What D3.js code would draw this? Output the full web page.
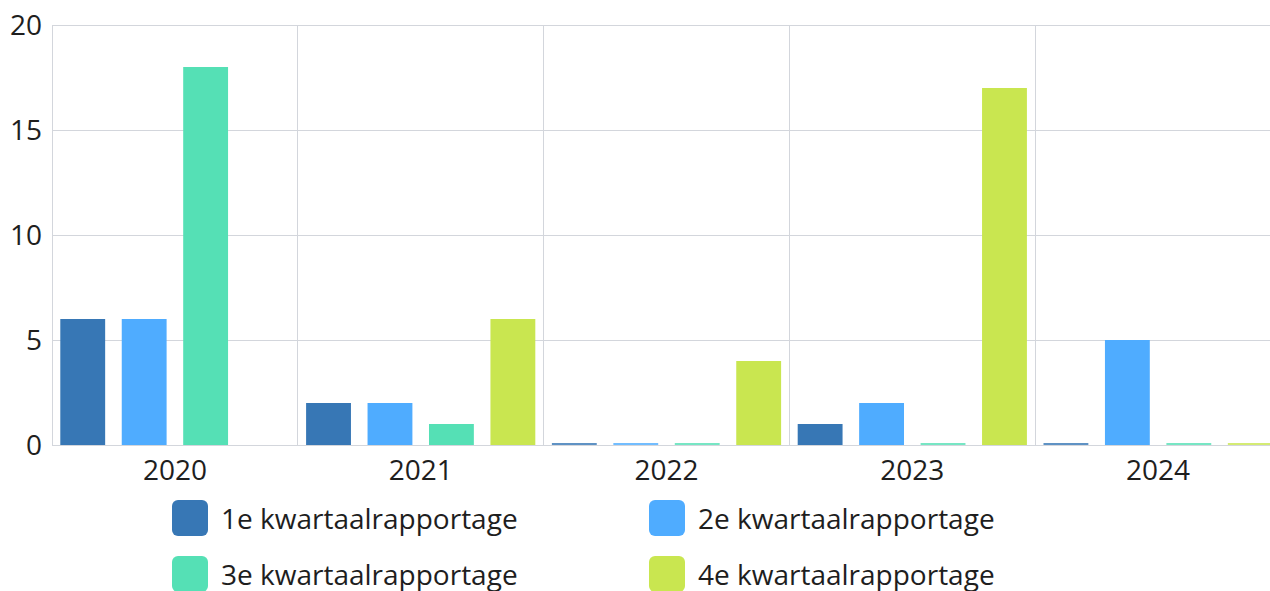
<!DOCTYPE html>
<html><head><meta charset="utf-8">
<script src="https://cdn.jsdelivr.net/npm/d3@7"></script>
<style>
html,body{margin:0;padding:0;background:#fff;overflow:hidden}
text{font-family:"Open Sans","Noto Sans",sans-serif;fill:#1e1e1e}
</style></head>
<body><svg id="c" width="1270" height="591"></svg>
<script>
const years = ["2020","2021","2022","2023","2024"];
const series = ["1e kwartaalrapportage","2e kwartaalrapportage","3e kwartaalrapportage","4e kwartaalrapportage"];
const q1 = [6, 2, 0, 1, 0];
const q2 = [6, 2, 0, 2, 5];
const q3 = [18, 1, 0, 0, 0];
const q4 = [null, 6, 4, 17, 0];
const yTicks = [0, 5, 10, 15, 20];
const colors = ["#3777b5", "#4facff", "#55e0b5", "#c9e650"];

const values = [q1, q2, q3, q4];
const svg = d3.select("#c");
const x = d3.scaleBand().domain(years).range([52, 1281]).padding(0);
const xi = d3.scaleBand().domain(series).range([0, x.bandwidth()]).paddingInner(0.27).paddingOuter(0.135);
const y = d3.scaleLinear().domain([0, 20]).range([445, 25]);

const g = svg.append("g");
g.selectAll(".hg").data(yTicks).join("line")
  .attr("x1", 52).attr("x2", 1281)
  .attr("y1", d => y(d)).attr("y2", d => y(d))
  .attr("stroke", "#d3d6dc").attr("stroke-width", 1).attr("shape-rendering", "crispEdges");
g.selectAll(".vg").data(years).join("line")
  .attr("x1", d => x(d)).attr("x2", d => x(d))
  .attr("y1", 25).attr("y2", 445)
  .attr("stroke", "#d3d6dc").attr("stroke-width", 1).attr("shape-rendering", "crispEdges");

series.forEach((s, si) => {
  svg.append("g").selectAll("rect").data(years.map((yr, i) => ({yr, v: values[si][i]})).filter(d => d.v !== null))
    .join("rect")
    .attr("x", d => x(d.yr) + xi(s))
    .attr("width", xi.bandwidth())
    .attr("y", d => d.v === 0 ? y(0) - 2 : y(d.v))
    .attr("height", d => d.v === 0 ? 2 : y(0) - y(d.v))
    .attr("fill", colors[si])
    .attr("opacity", d => d.v === 0 ? 0.8 : 1);
});

svg.append("g").selectAll("text").data(yTicks).join("text")
  .attr("x", 42).attr("y", d => y(d)).attr("dy", "0.35em")
  .attr("text-anchor", "end").attr("font-size", 28).text(d => d);
svg.append("g").selectAll("text").data(years).join("text")
  .attr("x", d => x(d) + x.bandwidth() / 2).attr("y", 480)
  .attr("text-anchor", "middle").attr("font-size", 28).text(d => d);

const lx = [172, 649], ly = [500, 556];
const leg = svg.append("g").selectAll("g").data(series).join("g")
  .attr("transform", (d, i) => `translate(${lx[i % 2]},${ly[Math.floor(i / 2)]})`);
leg.append("rect").attr("width", 36).attr("height", 36).attr("rx", 6)
  .attr("fill", (d, i) => colors[i]);
leg.append("text").attr("x", 49).attr("y", 29)
  .attr("font-size", 28).text(d => d);
</script></body></html>
